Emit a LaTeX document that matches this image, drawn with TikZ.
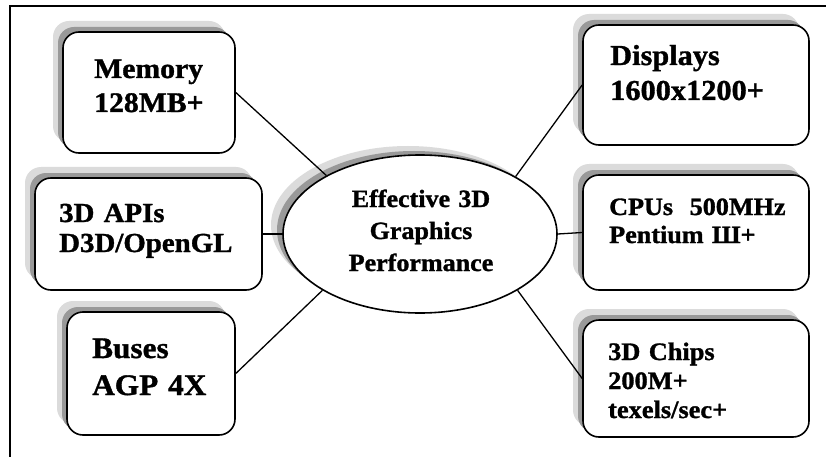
\documentclass[tikz,border=0pt]{standalone}
\usepackage{fontspec}
\setmainfont[FakeStretch=1.05, FakeBold=1.2]{Liberation Serif}
\usetikzlibrary{shapes.geometric,shadows}

\tikzset{
  softshadow/.style={
    general shadow={fill=gray!28, shadow xshift=-10pt, shadow yshift=11pt},
    general shadow={fill=gray!80, shadow xshift=-5pt, shadow yshift=5pt}},
  card/.style={draw=black, line width=1.6pt, rounded corners=16pt, fill=white,
    inner sep=0pt, softshadow},
  hub/.style={ellipse, draw=black, line width=1.6pt, fill=white, inner sep=0pt,
    minimum width=274pt, minimum height=158pt,
    general shadow={fill=gray!28, shadow xshift=-12pt, shadow yshift=9pt},
    general shadow={fill=gray!80, shadow xshift=-6pt, shadow yshift=4pt}},
  cardtext/.style={inner sep=0pt, align=left, text width=230pt, anchor=base west,
    font=\bfseries},
  link/.style={draw=black, line width=1.3pt},
  frame/.style={draw=black, line width=1.5pt}
}

\begin{document}
\begin{tikzpicture}[x=1pt, y=-1pt]
\useasboundingbox (0,0) rectangle (826,457);

% page frame
\draw[frame] (826,6) -| (10,457);

% central ellipse
\node[hub] (ell) at (420,234) {};
\node[inner sep=0pt, align=center, text width=220pt, anchor=base,
      font=\bfseries\fontsize{24.8}{32}\selectfont] (elltxt) at (421,207)
  {Effective 3D\\Graphics\\Performance};

% left column
\node[card, minimum width=172pt, minimum height=121pt] (mem) at (149,92.5) {};
\node[cardtext, font=\bfseries\fontsize{28.3}{34}\selectfont] (memtxt) at (94,78)
  {Memory\\128MB+};

\node[card, minimum width=227pt, minimum height=112pt] (api) at (148.5,234) {};
\node[cardtext, font=\bfseries\fontsize{27.5}{30}\selectfont] (apitxt) at (59,222)
  {3D APIs\\D3D/OpenGL};

\node[card, minimum width=168pt, minimum height=123pt] (bus) at (151,373.5) {};
\node[cardtext, font=\bfseries\fontsize{29.8}{37}\selectfont] (bustxt) at (92,358)
  {Buses\\AGP 4X};

% right column
\node[card, minimum width=226pt, minimum height=120pt] (disp) at (696,85) {};
\node[cardtext, font=\bfseries\fontsize{28.9}{35}\selectfont] (disptxt) at (610,65)
  {Displays\\1600x1200+};

\node[card, minimum width=226pt, minimum height=115pt] (cpu) at (696,232.5) {};
\node[cardtext, font=\bfseries\fontsize{24.9}{28}\selectfont] (cputxt) at (609,215)
  {CPUs~~500MHz\\Pentium Ш+};

\node[card, minimum width=226pt, minimum height=117pt] (chip) at (696,378.5) {};
\node[cardtext, font=\bfseries\fontsize{25.1}{29}\selectfont] (chiptxt) at (608,360)
  {3D Chips\\200M+\\texels/sec+};

% connectors
\draw[link] (mem.east)  -- (ell.148);
\draw[link] (api.east)  -- (ell.180);
\draw[link] (bus.east)  -- (ell.210);
\draw[link] (disp.west) -- (ell.31);
\draw[link] (cpu.west)  -- (ell.0);
\draw[link] (chip.west) -- (ell.330);
\end{tikzpicture}
\end{document}
